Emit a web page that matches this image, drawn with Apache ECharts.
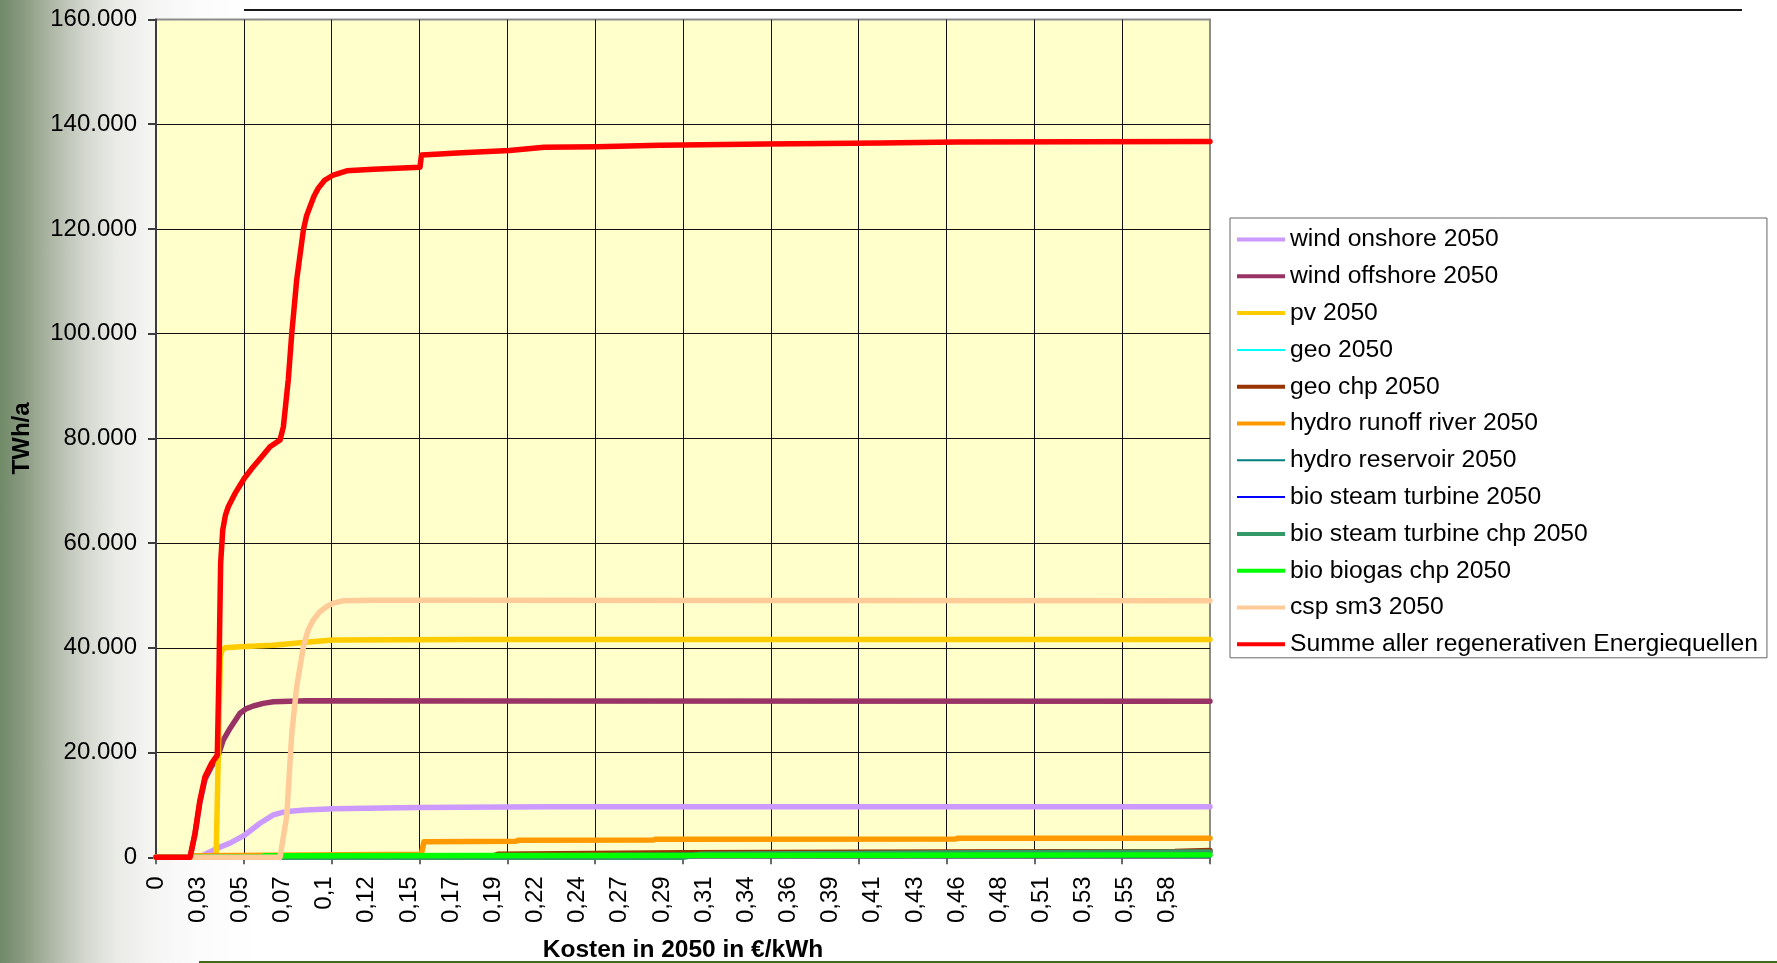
<!DOCTYPE html>
<html>
<head>
<meta charset="utf-8">
<title>Kosten in 2050</title>
<script src="https://cdn.jsdelivr.net/npm/echarts@6/dist/echarts.min.js"></script>
<style>
  html, body {
    margin: 0;
    padding: 0;
    width: 1777px;
    height: 963px;
    overflow: hidden;
    background: linear-gradient(to right, #6f8a66 0px, #8c9c83 25px, #b3bbab 55px, #d3d7ce 85px, #e9ebe6 115px, #f4f4f3 150px, #fcfcfc 200px, #ffffff 260px);
  }
  .echart {
    width: 1777px;
    height: 963px;
  }
</style>
</head>
<body>
<div id="echart" class="echart"></div>
<script>
// tick labels of the category-like cost axis (Excel shows them every ~0.024)
const xLabels = ['0', '0,03', '0,05', '0,07', '0,1', '0,12', '0,15', '0,17', '0,19', '0,22', '0,24', '0,27', '0,29',
  '0,31', '0,34', '0,36', '0,39', '0,41', '0,43', '0,46', '0,48', '0,51', '0,53', '0,55', '0,58']
const yLabels = ['0', '20.000', '40.000', '60.000', '80.000', '100.000', '120.000', '140.000', '160.000']

// [Kosten, TWh/a]
const windOnshore = [[0, 0], [0.0222, 0], [0.0269, 400], [0.0346, 1700], [0.0421, 2700], [0.0507, 4300], [0.0592, 6500],
  [0.0668, 8100], [0.0715, 8550], [0.0763, 8800], [0.085, 9050], [0.1009, 9250], [0.1484, 9500], [0.2243, 9650], [0.6, 9650]]
const windOffshore = [[0, 0], [0.0194, 0], [0.0222, 4400], [0.025, 10500], [0.0279, 14900], [0.0317, 17400], [0.0349, 18900],
  [0.0383, 22400], [0.0421, 24600], [0.0478, 27500], [0.0515, 28400], [0.0554, 28900], [0.061, 29400], [0.0668, 29700],
  [0.0858, 29900], [0.1787, 29850], [0.6, 29800]]
const pv = [[0, 0], [0.0342, 0], [0.0355, 20000], [0.0366, 38000], [0.0375, 39500], [0.0393, 40000], [0.0478, 40200],
  [0.0666, 40500], [0.0837, 41000], [0.1008, 41500], [0.1788, 41600], [0.6, 41600]]
const geo = [[0, 0], [0.22, 0], [0.23, 800], [0.4, 1000], [0.6, 1100]]
const geoChp = [[0, 0], [0.19, 0], [0.195, 600], [0.3, 850], [0.45, 1000], [0.58, 1100], [0.6, 1300]]
const hydroRunoff = [[0, 0], [0.0194, 0], [0.0222, 300], [0.1511, 600], [0.1525, 2950], [0.205, 3050], [0.2062, 3250],
  [0.283, 3300], [0.2842, 3450], [0.455, 3480], [0.4562, 3620], [0.6, 3650]]
const hydroReservoir = [[0, 0], [0.25, 0], [0.26, 700], [0.45, 900], [0.6, 1000]]
const bioSteam = [[0, 0], [0.6, 0]]
const bioSteamChp = [[0, 0], [0.3, 0], [0.31, 600], [0.5, 900], [0.6, 1000]]
const bioBiogasChp = [[0, 0], [0.0592, 0], [0.062, 300], [0.2, 350], [0.4, 400], [0.6, 450]]
const cspSm3 = [[0, 0], [0.0706, 0], [0.0744, 7800], [0.0773, 23700], [0.0801, 32600], [0.0839, 40200], [0.0865, 43300],
  [0.0895, 45300], [0.093, 46800], [0.0972, 47900], [0.1015, 48600], [0.1066, 49000], [0.1237, 49100], [0.6, 49000]]
const summe = [[0, 0], [0.0194, 0], [0.0222, 4600], [0.025, 10900], [0.0279, 15400], [0.0317, 18000], [0.0349, 19500],
  [0.0359, 36400], [0.0362, 43400], [0.0368, 56200], [0.038, 62500], [0.0395, 65300], [0.0412, 67000], [0.045, 69500],
  [0.0503, 72400], [0.0554, 74600], [0.0602, 76500], [0.0649, 78400], [0.0706, 79700], [0.0725, 82200], [0.0753, 91200],
  [0.0773, 100100], [0.0801, 110300], [0.0839, 119800], [0.0857, 122500], [0.0877, 124300], [0.09, 126300],
  [0.0924, 127800], [0.096, 129300], [0.1009, 130300], [0.1086, 131100], [0.1237, 131400], [0.1503, 131800],
  [0.1511, 134100], [0.1617, 134300], [0.1713, 134500], [0.2011, 135000], [0.221, 135600], [0.2508, 135700],
  [0.2872, 136000], [0.3467, 136200], [0.4129, 136400], [0.456, 136600], [0.6, 136700]]

const FONT = '"Liberation Sans", Arial, sans-serif'
const THICK = 'path://M0,0h48v4h-48z'
const THIN = 'path://M0,0M0,1h48v2h-48zM48,4'

const seriesDefs = [
  { name: 'wind onshore 2050', color: '#cc99ff', width: 5.5, data: windOnshore },
  { name: 'wind offshore 2050', color: '#993366', width: 5.5, data: windOffshore },
  { name: 'pv 2050', color: '#ffcc00', width: 5.5, data: pv },
  { name: 'geo 2050', color: '#00ffff', width: 2, data: geo },
  { name: 'geo chp 2050', color: '#993300', width: 5.5, data: geoChp },
  { name: 'hydro runoff river 2050', color: '#ff9900', width: 5.5, data: hydroRunoff },
  { name: 'hydro reservoir 2050', color: '#008080', width: 2, data: hydroReservoir },
  { name: 'bio steam turbine 2050', color: '#0000ff', width: 2, data: bioSteam },
  { name: 'bio steam turbine chp 2050', color: '#339966', width: 5.5, data: bioSteamChp },
  { name: 'bio biogas chp 2050', color: '#00ff00', width: 5.5, data: bioBiogasChp },
  { name: 'csp sm3 2050', color: '#ffcc99', width: 5.5, data: cspSm3 },
  { name: 'Summe aller regenerativen Energiequellen', color: '#ff0000', width: 5.5, data: summe }
]

const myChart = echarts.init(document.getElementById('echart'))
myChart.setOption({
  animation: false,
  textStyle: { fontFamily: FONT },
  grid: {
    left: 156,
    right: 567,
    top: 19.5,
    bottom: 105.7,
    outerBoundsMode: 'none', // keep the plot where it is, even if the axis name reaches the edge
    show: true,
    backgroundColor: '#ffffcc',
    borderColor: '#8c8c8c',
    borderWidth: 2
  },
  legend: {
    orient: 'vertical',
    left: 1230,
    top: 218,
    padding: [9, 9, 1, 7],
    itemWidth: 48,
    itemHeight: 4,
    itemGap: 11.8,
    backgroundColor: '#ffffff',
    borderColor: '#666666',
    borderWidth: 1,
    borderRadius: 0,
    itemStyle: { borderWidth: 0 },
    textStyle: { fontSize: 24.7, color: '#000', fontFamily: FONT },
    data: seriesDefs.map(s => ({ name: s.name, icon: s.width > 2 ? THICK : THIN }))
  },
  xAxis: [{
    // gridlines + ticks
    type: 'value',
    position: 'bottom',
    min: 0,
    max: 0.6,
    interval: 0.05,
    name: 'Kosten in 2050 in €/kWh',
    nameLocation: 'middle',
    nameGap: 80,
    nameTextStyle: { fontSize: 24.5, fontWeight: 'bold', color: '#000', fontFamily: FONT },
    axisLine: { show: true, lineStyle: { color: '#7f7f7f', width: 2 } },
    axisTick: { show: true, length: 7, lineStyle: { color: '#6a6a6a', width: 2 } },
    axisLabel: { show: false },
    splitLine: { show: true, showMinLine: false, showMaxLine: false, lineStyle: { color: '#111', width: 1 } }
  }, {
    // tick labels only
    type: 'value',
    position: 'bottom',
    min: 0,
    max: 0.6,
    interval: 0.024,
    axisLine: { show: false },
    axisTick: { show: false },
    splitLine: { show: false },
    axisLabel: {
      rotate: 90,
      margin: 19,
      fontSize: 24,
      color: '#000',
      fontFamily: FONT,
      formatter: function(value) {
        return xLabels[Math.round(value / 0.024)] || ''
      }
    }
  }],
  yAxis: {
    type: 'value',
    min: 0,
    max: 160000,
    interval: 20000,
    name: 'TWh/a',
    nameLocation: 'middle',
    nameGap: 122,
    nameTextStyle: { fontSize: 24, fontWeight: 'bold', color: '#000', fontFamily: FONT },
    axisLine: { show: true, lineStyle: { color: '#3c3c3c', width: 2 } },
    axisTick: { show: true, length: 8, lineStyle: { color: '#3c3c3c', width: 2 } },
    axisLabel: {
      margin: 19,
      fontSize: 24,
      color: '#000',
      fontFamily: FONT,
      formatter: function(value) {
        return yLabels[Math.round(value / 20000)]
      }
    },
    splitLine: { show: true, showMinLine: false, showMaxLine: false, lineStyle: { color: '#111', width: 1 } }
  },
  graphic: [
    { type: 'line', shape: { x1: 244, y1: 10, x2: 1742, y2: 10 }, style: { stroke: '#1a1a1a', lineWidth: 2 }, silent: true },
    { type: 'line', shape: { x1: 199, y1: 962, x2: 1777, y2: 962 }, style: { stroke: '#3f6a1c', lineWidth: 2 }, silent: true }
  ],
  series: seriesDefs.map(s => ({
    name: s.name,
    type: 'line',
    xAxisIndex: 0,
    symbol: 'none',
    smooth: false,
    color: s.color,
    lineStyle: { width: s.width, color: s.color, cap: 'round', join: 'round' },
    data: s.data
  }))
})
</script>
</body>
</html>
